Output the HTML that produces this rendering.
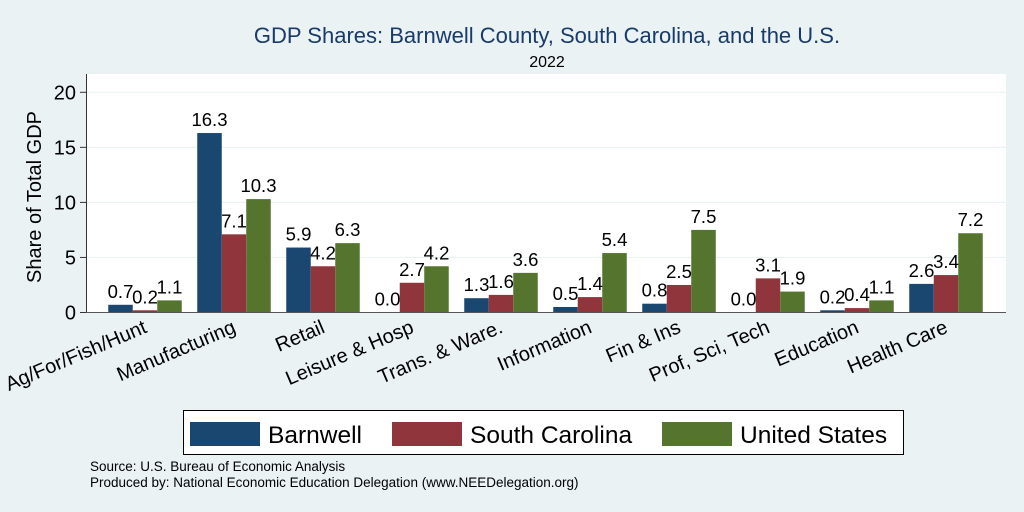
<!DOCTYPE html>
<html><head><meta charset="utf-8"><style>
body{margin:0;background:#eaf2f3;}
svg{display:block;font-family:"Liberation Sans",Arial,sans-serif;}
</style></head><body>
<svg id="c" width="1024" height="512">
<rect width="1024" height="512" fill="#eaf2f3"/>
<text x="547" y="43" font-size="22" fill="#1a3a6a" text-anchor="middle">GDP Shares: Barnwell County, South Carolina, and the U.S.</text>
<text x="547" y="67" font-size="16" fill="#000" text-anchor="middle">2022</text>
<rect x="87" y="74" width="919" height="238" fill="#fff"/>
<g id="grid"></g><g id="bars"></g><g id="labels"></g>
<line x1="86.5" y1="74" x2="86.5" y2="313" stroke="#333"/>
<line x1="86" y1="312.5" x2="1006" y2="312.5" stroke="#555"/>
<text transform="translate(41,197) rotate(-90)" font-size="20" text-anchor="middle">Share of Total GDP</text>
<rect x="183.5" y="410.5" width="720" height="44" fill="#fff" stroke="#000"/>
<g><rect x="190" y="422" width="70" height="24" fill="#1a476f"/><text x="268" y="443" font-size="24.5">Barnwell</text></g>
<g><rect x="392" y="422" width="70" height="24" fill="#90353b"/><text x="470" y="443" font-size="24.5">South Carolina</text></g>
<g><rect x="662" y="422" width="70" height="24" fill="#55752f"/><text x="740" y="443" font-size="24.5">United States</text></g>
<text x="90" y="471" font-size="13.5">Source: U.S. Bureau of Economic Analysis</text>
<text x="90" y="487" font-size="13.5">Produced by: National Economic Education Delegation (www.NEEDelegation.org)</text>
</svg>
<script>
const categories=["Ag/For/Fish/Hunt","Manufacturing","Retail","Leisure & Hosp","Trans. & Ware.","Information","Fin & Ins","Prof, Sci, Tech","Education","Health Care"];
const barnwell=[0.7,16.3,5.9,0.0,1.3,0.5,0.8,0.0,0.2,2.6];
const southCarolina=[0.2,7.1,4.2,2.7,1.6,1.4,2.5,3.1,0.4,3.4];
const unitedStates=[1.1,10.3,6.3,4.2,3.6,5.4,7.5,1.9,1.1,7.2];
const yTicks=[0,5,10,15,20];
const NS="http://www.w3.org/2000/svg";
const y=v=>312.5-v*11.01;
const cx=i=>145+i*89;
const bw=24.5;
function mk(t,a,p){const e=document.createElementNS(NS,t);for(const k in a)e.setAttribute(k,a[k]);p.appendChild(e);return e;}
const grid=document.getElementById('grid'),bars=document.getElementById('bars'),labels=document.getElementById('labels');
yTicks.forEach(t=>{
  if(t>0){const g=mk('line',{x1:87,x2:1006,y1:y(t),y2:y(t),stroke:'#eaf2f3','stroke-width':1.2},grid);
  
  }
  const tk=mk('line',{x1:80,x2:86,y1:y(t),y2:y(t),stroke:'#333'},grid);
  
  
  const tl=mk('text',{x:76,y:y(t)+7,'font-size':20,'text-anchor':'end'},grid);
  tl.textContent=t;
  
  
});
const series=[[barnwell,'#1a476f','barnwell'],[southCarolina,'#90353b','south-carolina'],[unitedStates,'#55752f','united-states']];
categories.forEach((c,i)=>{
  series.forEach(([arr,col,nm],j)=>{
    const x0=cx(i)-1.5*bw+j*bw,v=arr[i];
    const r=mk('rect',{x:x0,y:y(v),width:bw,height:312.5-y(v),fill:col},bars);
    
    
    const t=mk('text',{x:x0+bw/2,y:y(v)-7,'font-size':18.5,'text-anchor':'middle'},labels);
    t.textContent=v.toFixed(1);
    
    
  });
  const xl=mk('text',{transform:`translate(${cx(i)+3},${332}) rotate(-23)`,'font-size':20,'text-anchor':'end'},labels);
  xl.textContent=c;
  
  
});
</script>
</body></html>
